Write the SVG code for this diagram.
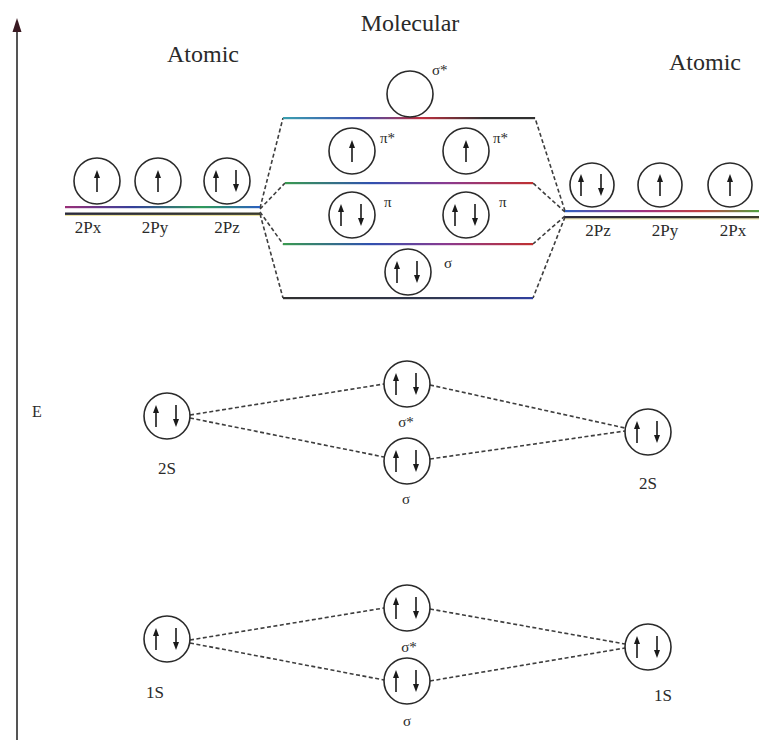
<svg xmlns="http://www.w3.org/2000/svg" xmlns:xlink="http://www.w3.org/1999/xlink" width="759" height="740" viewBox="0 0 759 740">
  <style>
    .orb { fill: none; stroke: #2a2a2a; stroke-width: 1.6; }
    .arr { stroke: #1a1a1a; stroke-width: 1.6; fill: none; }
    .head { fill: #1a1a1a; }
    .dash { stroke: #3e3e3e; stroke-width: 1.6; stroke-dasharray: 4 2.5; fill: none; }
    .hdr { font-family: "Liberation Serif", serif; font-size: 24px; fill: #2a2a2a; text-anchor: middle; }
    .lbl { font-family: "Liberation Serif", serif; font-size: 17px; fill: #2a2a2a; text-anchor: middle; }
    .gk { font-family: "Liberation Serif", serif; font-size: 15px; fill: #2a2a2a; }
    .gkc { font-family: "Liberation Serif", serif; font-size: 15px; fill: #2a2a2a; text-anchor: middle; }
  </style>
  <defs>
    <!-- spin arrows, centred on the origin -->
    <g id="up">
      <line class="arr" x1="0" y1="11" x2="0" y2="-4"/>
      <polygon class="head" points="-3,-3 3,-3 0,-11"/>
    </g>
    <g id="down">
      <line class="arr" x1="0" y1="-11" x2="0" y2="4"/>
      <polygon class="head" points="-3,3 3,3 0,11"/>
    </g>
    <!-- tinted level lines -->
    <linearGradient id="lvlA" x1="0" y1="0" x2="1" y2="0">
      <stop offset="0" stop-color="#9a2f78"/>
      <stop offset="0.35" stop-color="#34409a"/>
      <stop offset="0.7" stop-color="#2f9a5a"/>
      <stop offset="1" stop-color="#2a5fc0"/>
    </linearGradient>
    <linearGradient id="lvlB" x1="0" y1="0" x2="1" y2="0">
      <stop offset="0" stop-color="#2a2a3a"/>
      <stop offset="0.5" stop-color="#303030"/>
      <stop offset="1" stop-color="#3a3a2a"/>
    </linearGradient>
    <linearGradient id="lvlTop" x1="0" y1="0" x2="1" y2="0">
      <stop offset="0" stop-color="#3aa0b0"/>
      <stop offset="0.3" stop-color="#4050b0"/>
      <stop offset="0.55" stop-color="#c03040"/>
      <stop offset="0.8" stop-color="#303030"/>
      <stop offset="1" stop-color="#303030"/>
    </linearGradient>
    <linearGradient id="lvlMid" x1="0" y1="0" x2="1" y2="0">
      <stop offset="0" stop-color="#3a9a50"/>
      <stop offset="0.35" stop-color="#3050b0"/>
      <stop offset="0.65" stop-color="#8a3a90"/>
      <stop offset="1" stop-color="#c03030"/>
    </linearGradient>
    <linearGradient id="lvlBot" x1="0" y1="0" x2="1" y2="0">
      <stop offset="0" stop-color="#303030"/>
      <stop offset="0.6" stop-color="#303850"/>
      <stop offset="1" stop-color="#3040a0"/>
    </linearGradient>
    <linearGradient id="lvlR" x1="0" y1="0" x2="1" y2="0">
      <stop offset="0" stop-color="#3060c0"/>
      <stop offset="0.4" stop-color="#a03080"/>
      <stop offset="0.7" stop-color="#c04040"/>
      <stop offset="1" stop-color="#50a040"/>
    </linearGradient>
  </defs>

  <!-- energy axis -->
  <g id="axis">
    <line x1="17" y1="28" x2="17" y2="740" stroke="#555" stroke-width="2"/>
    <polygon points="12.5,32 21.5,32 17,18" fill="#3a1a22"/>
    <text x="32" y="417" font-family="Liberation Serif, serif" font-size="16" fill="#2a2a2a">E</text>
  </g>

  <!-- headings -->
  <g id="headings">
    <text class="hdr" x="410" y="31">Molecular</text>
    <text class="hdr" x="203" y="62">Atomic</text>
    <text class="hdr" x="705" y="70">Atomic</text>
  </g>

  <!-- connectors: dashed correlation lines -->
  <g id="connectors">
    <!-- 2P fan, left -->
    <line class="dash" x1="260" y1="208" x2="283" y2="118"/>
    <line class="dash" x1="260" y1="209" x2="285" y2="183"/>
    <line class="dash" x1="260" y1="212" x2="283" y2="244"/>
    <line class="dash" x1="260" y1="214" x2="283" y2="298"/>
    <!-- 2P fan, right -->
    <line class="dash" x1="565" y1="211" x2="535" y2="118"/>
    <line class="dash" x1="565" y1="212" x2="533" y2="183"/>
    <line class="dash" x1="565" y1="216" x2="533" y2="244"/>
    <line class="dash" x1="565" y1="217" x2="533" y2="298"/>
    <!-- 2S -->
    <line class="dash" x1="190" y1="415" x2="384" y2="384"/>
    <line class="dash" x1="190" y1="418" x2="384" y2="457"/>
    <line class="dash" x1="430" y1="385" x2="625" y2="428"/>
    <line class="dash" x1="430" y1="459" x2="625" y2="431"/>
    <!-- 1S -->
    <line class="dash" x1="190" y1="640" x2="384" y2="608"/>
    <line class="dash" x1="190" y1="643" x2="384" y2="680"/>
    <line class="dash" x1="430" y1="609" x2="625" y2="644"/>
    <line class="dash" x1="430" y1="681" x2="625" y2="648"/>
  </g>

  <!-- 2P levels -->
  <g id="levels">
    <rect x="65" y="206" width="195" height="2.2" fill="url(#lvlA)"/>
    <rect x="65" y="212.5" width="195" height="2.4" fill="url(#lvlB)"/>
    <rect x="65" y="215" width="195" height="1" fill="#e0d060" opacity="0.6"/>
    <rect x="565" y="210" width="194" height="2.2" fill="url(#lvlR)"/>
    <rect x="565" y="216" width="194" height="2.4" fill="url(#lvlB)"/>
    <rect x="565" y="218.5" width="194" height="1" fill="#e0d060" opacity="0.6"/>
    <rect x="283" y="117" width="252" height="2.2" fill="url(#lvlTop)"/>
    <rect x="285" y="182" width="248" height="2.2" fill="url(#lvlMid)"/>
    <rect x="283" y="243" width="250" height="2.2" fill="url(#lvlMid)"/>
    <rect x="283" y="297" width="250" height="2.2" fill="url(#lvlBot)"/>
  </g>

  <!-- left atomic 2P -->
  <g id="L-2Px">
    <circle class="orb" cx="97" cy="181" r="23"/>
    <use xlink:href="#up" x="97" y="181"/>
    <text class="lbl" x="88" y="233">2Px</text>
  </g>
  <g id="L-2Py">
    <circle class="orb" cx="158" cy="181" r="23"/>
    <use xlink:href="#up" x="158" y="181"/>
    <text class="lbl" x="155" y="233">2Py</text>
  </g>
  <g id="L-2Pz">
    <circle class="orb" cx="227" cy="181" r="23"/>
    <use xlink:href="#up" x="216" y="181"/>
    <use xlink:href="#down" x="236" y="181"/>
    <text class="lbl" x="227" y="233">2Pz</text>
  </g>

  <!-- right atomic 2P -->
  <g id="R-2Pz">
    <circle class="orb" cx="592" cy="185" r="22"/>
    <use xlink:href="#up" x="581" y="185"/>
    <use xlink:href="#down" x="601" y="185"/>
    <text class="lbl" x="598" y="236">2Pz</text>
  </g>
  <g id="R-2Py">
    <circle class="orb" cx="660" cy="185" r="22"/>
    <use xlink:href="#up" x="660" y="185"/>
    <text class="lbl" x="665" y="236">2Py</text>
  </g>
  <g id="R-2Px">
    <circle class="orb" cx="730" cy="185" r="22"/>
    <use xlink:href="#up" x="730" y="185"/>
    <text class="lbl" x="733" y="236">2Px</text>
  </g>

  <!-- molecular 2P orbitals -->
  <g id="MO-sigma-star-2p">
    <circle class="orb" cx="410" cy="94" r="23"/>
    <text class="gk" x="432" y="75">σ*</text>
  </g>
  <g id="MO-pi-star-1">
    <circle class="orb" cx="352" cy="151" r="23"/>
    <use xlink:href="#up" x="352" y="151"/>
    <text class="gk" x="380" y="143">π*</text>
  </g>
  <g id="MO-pi-star-2">
    <circle class="orb" cx="466" cy="151" r="23"/>
    <use xlink:href="#up" x="466" y="151"/>
    <text class="gk" x="493" y="143">π*</text>
  </g>
  <g id="MO-pi-1">
    <circle class="orb" cx="352" cy="215" r="23"/>
    <use xlink:href="#up" x="341" y="215"/>
    <use xlink:href="#down" x="361" y="215"/>
    <text class="gk" x="384" y="207">π</text>
  </g>
  <g id="MO-pi-2">
    <circle class="orb" cx="466" cy="215" r="23"/>
    <use xlink:href="#up" x="455" y="215"/>
    <use xlink:href="#down" x="475" y="215"/>
    <text class="gk" x="499" y="207">π</text>
  </g>
  <g id="MO-sigma-2p">
    <circle class="orb" cx="408" cy="272" r="23"/>
    <use xlink:href="#up" x="397" y="272"/>
    <use xlink:href="#down" x="417" y="272"/>
    <text class="gk" x="444" y="268">σ</text>
  </g>

  <!-- 2S -->
  <g id="L-2S">
    <circle class="orb" cx="167" cy="416" r="23"/>
    <use xlink:href="#up" x="156" y="416"/>
    <use xlink:href="#down" x="176" y="416"/>
    <text class="lbl" x="167" y="474">2S</text>
  </g>
  <g id="MO-sigma-star-2s">
    <circle class="orb" cx="407" cy="384" r="23"/>
    <use xlink:href="#up" x="396" y="384"/>
    <use xlink:href="#down" x="416" y="384"/>
    <text class="gkc" x="406" y="427">σ*</text>
  </g>
  <g id="MO-sigma-2s">
    <circle class="orb" cx="407" cy="461" r="23"/>
    <use xlink:href="#up" x="396" y="461"/>
    <use xlink:href="#down" x="416" y="461"/>
    <text class="gkc" x="406" y="504">σ</text>
  </g>
  <g id="R-2S">
    <circle class="orb" cx="648" cy="432" r="23"/>
    <use xlink:href="#up" x="637" y="432"/>
    <use xlink:href="#down" x="657" y="432"/>
    <text class="lbl" x="648" y="489">2S</text>
  </g>

  <!-- 1S -->
  <g id="L-1S">
    <circle class="orb" cx="167" cy="639" r="23"/>
    <use xlink:href="#up" x="156" y="639"/>
    <use xlink:href="#down" x="176" y="639"/>
    <text class="lbl" x="155" y="698">1S</text>
  </g>
  <g id="MO-sigma-star-1s">
    <circle class="orb" cx="407" cy="608" r="23"/>
    <use xlink:href="#up" x="396" y="608"/>
    <use xlink:href="#down" x="416" y="608"/>
    <text class="gkc" x="409" y="652">σ*</text>
  </g>
  <g id="MO-sigma-1s">
    <circle class="orb" cx="407" cy="681" r="23"/>
    <use xlink:href="#up" x="396" y="681"/>
    <use xlink:href="#down" x="416" y="681"/>
    <text class="gkc" x="407" y="726">σ</text>
  </g>
  <g id="R-1S">
    <circle class="orb" cx="648" cy="647" r="23"/>
    <use xlink:href="#up" x="637" y="647"/>
    <use xlink:href="#down" x="657" y="647"/>
    <text class="lbl" x="663" y="701">1S</text>
  </g>
</svg>
